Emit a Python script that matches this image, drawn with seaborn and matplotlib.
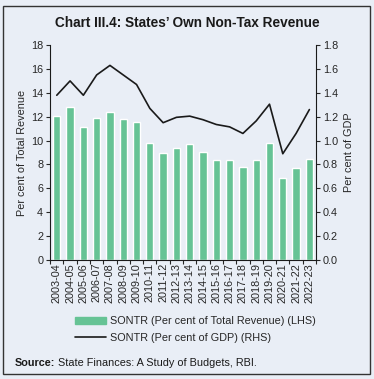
import numpy as np
import pandas as pd
import matplotlib
matplotlib.use("Agg")
import matplotlib.pyplot as plt
import seaborn as sns
from matplotlib.patches import Rectangle
from matplotlib.lines import Line2D
from matplotlib.ticker import MultipleLocator, FixedLocator

years = ["2003-04", "2004-05", "2005-06", "2006-07", "2007-08", "2008-09", "2009-10",
         "2010-11", "2011-12", "2012-13", "2013-14", "2014-15", "2015-16", "2016-17",
         "2017-18", "2018-19", "2019-20", "2020-21", "2021-22", "2022-23"]
sontr_rev = [12.1, 12.8, 11.1, 11.9, 12.4, 11.8, 11.6, 9.8, 9.0, 9.4,
             9.7, 9.05, 8.4, 8.35, 7.8, 8.4, 9.8, 6.85, 7.7, 8.45]
sontr_gdp = [1.38, 1.50, 1.38, 1.55, 1.63, 1.55, 1.47, 1.27, 1.15, 1.195,
             1.205, 1.175, 1.135, 1.115, 1.06, 1.165, 1.305, 0.89, 1.06, 1.26]

bg = "#e9eef6"
green = "#66c395"
ink = "#1a1a1a"

sns.set_theme(style="white")
plt.rcParams["font.family"] = ["Liberation Sans", "DejaVu Sans"]

df = pd.DataFrame({"year": years, "rev": sontr_rev, "gdp": sontr_gdp})
df["pos"] = np.arange(len(df))

fig = plt.figure(figsize=(3.74, 3.79), dpi=100, facecolor=bg)
ax = fig.add_axes([0.134, 0.314, 0.711, 0.567])
ax.set_facecolor(bg)

sns.barplot(data=df, x="year", y="rev", color=green, width=0.55, saturation=1, ax=ax)
ax.set_ylim(0, 18)
ax.set_xlim(-0.5, len(df) - 0.5)
ax.yaxis.set_major_locator(MultipleLocator(2))
ax.set_ylabel("Per cent of Total Revenue", fontsize=7.8, labelpad=3)
ax.set_xlabel("")
ax.tick_params(axis="y", labelsize=7.8, length=3, width=0.8, direction="out", left=True, pad=2)
ax.tick_params(axis="x", labelsize=7.8, rotation=90, length=0, pad=2)
ax.xaxis.set_minor_locator(FixedLocator(np.arange(len(df) + 1) - 0.5))
ax.tick_params(axis="x", which="minor", length=3, width=0.8, direction="out", bottom=True)

ax2 = ax.twinx()
sns.lineplot(data=df, x="pos", y="gdp", color=ink, lw=1.2, ax=ax2)
ax2.set_ylim(0, 1.8)
ax2.yaxis.set_major_locator(MultipleLocator(0.2))
ax2.yaxis.set_major_formatter(matplotlib.ticker.FormatStrFormatter("%.1f"))
ax2.set_ylabel("Per cent of GDP", fontsize=7.8, labelpad=4)
ax2.set_xlabel("")
ax2.tick_params(axis="y", labelsize=7.8, length=3, width=0.8, direction="out", right=True, pad=2)

for a in (ax, ax2):
    for s in a.spines.values():
        s.set_visible(False)
    a.grid(False)
for a, side in ((ax, "left"), (ax, "bottom"), (ax2, "right")):
    a.spines[side].set_visible(True)
    a.spines[side].set_color(ink)
    a.spines[side].set_linewidth(0.8)

handles = [Rectangle((0, 0), 1, 1, color=green),
           Line2D([0], [0], color=ink, lw=1.2)]
labels = ["SONTR (Per cent of Total Revenue) (LHS)", "SONTR (Per cent of GDP) (RHS)"]
fig.legend(handles, labels, loc="upper left", bbox_to_anchor=(0.18, 0.185),
           frameon=False, fontsize=7.8, handlelength=2.9, handletextpad=0.3,
           labelspacing=0.6, borderpad=0.2)

fig.text(0.5, 0.94, "Chart III.4: States\u2019 Own Non-Tax Revenue", ha="center",
         va="center", fontsize=9.8, fontweight="bold", color=ink)
src = fig.text(0.04, 0.043, "Source:", ha="left", va="center", fontsize=7.8,
               fontweight="bold", color=ink)
fig.canvas.draw()
bb = src.get_window_extent().transformed(fig.transFigure.inverted())
fig.text(bb.x1 + 0.006, 0.043, "State Finances: A Study of Budgets, RBI.", ha="left",
         va="center", fontsize=7.8, color=ink)

fig.add_artist(Rectangle((0.008, 0.013), 0.982, 0.972, transform=fig.transFigure,
                         fill=False, edgecolor="#333333", lw=1.0))

fig.savefig("out.png", dpi=100, facecolor=bg)
